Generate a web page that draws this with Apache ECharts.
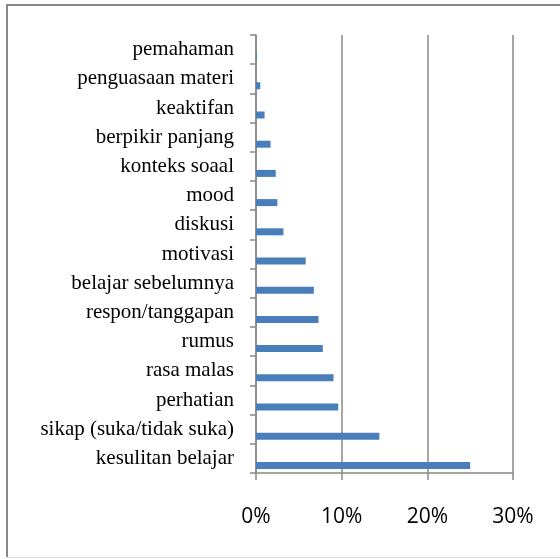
<!DOCTYPE html>
<html lang="en">
<head>
  <meta charset="UTF-8">
  <title>faktor</title>
  <style>
    html,
    body,
    #main {
      margin: 0;
      padding: 0;
      background: #fff;
    }

    #main {
      width: 560px;
      height: 559px;
    }
  </style>
</head>
<body>
  <div id="main"></div>
  <script src="https://cdn.jsdelivr.net/npm/echarts@6/dist/echarts.min.js"></script>
  <script>
    // bottom -> top, same as the y axis
    const factors = [
      'kesulitan belajar', 'sikap (suka/tidak suka)', 'perhatian', 'rasa malas',
      'rumus', 'respon/tanggapan', 'belajar sebelumnya', 'motivasi', 'diskusi',
      'mood', 'konteks soaal', 'berpikir panjang', 'keaktifan',
      'penguasaan materi', 'pemahaman'
    ];
    const percents = [25.0, 14.4, 9.6, 9.05, 7.8, 7.3, 6.75, 5.8, 3.2, 2.5, 2.3, 1.7, 1.0, 0.5, 0.1];
    const xTicks = [0, 10, 20, 30];

    const draw = () => {
      const myChart = echarts.init(document.getElementById('main'));
      const option = {
        animation: false,
        graphic: [
          { type: 'line', shape: { x1: 7, y1: 5, x2: 7, y2: 557 }, style: { stroke: '#888', lineWidth: 2 } },
          { type: 'line', shape: { x1: 6, y1: 5, x2: 560, y2: 5 }, style: { stroke: '#888', lineWidth: 2 } },
          { type: 'line', shape: { x1: 7, y1: 557.5, x2: 560, y2: 557.5 }, style: { stroke: '#ddd', lineWidth: 1 } }
        ],
        grid: {
          left: 256,
          right: 47,
          top: 35,
          bottom: 86
        },
        xAxis: {
          type: 'value',
          min: xTicks[0],
          max: xTicks[xTicks.length - 1],
          interval: 10,
          axisLine: { show: true, lineStyle: { color: '#888', width: 1.5 } },
          axisTick: { show: true, length: 7, lineStyle: { color: '#888', width: 1.5 } },
          splitLine: { show: true, lineStyle: { color: '#888', width: 1.5 } },
          axisLabel: {
            formatter: '{value}%',
            margin: 34,
            color: '#000',
            fontFamily: 'Open Sans',
            fontSize: 21
          }
        },
        yAxis: {
          type: 'category',
          data: factors,
          axisLine: { show: true, lineStyle: { color: '#888', width: 1.5 } },
          axisTick: { show: true, length: 6, lineStyle: { color: '#888', width: 1.5 } },
          axisLabel: {
            margin: 22,
            color: '#000',
            fontFamily: 'Liberation Serif',
            fontSize: 21
          }
        },
        series: [{
            // empty partner series so the real bars sit low in each band
            type: 'bar',
            data: [],
            barWidth: 7,
            barGap: '100%'
          },
          {
            type: 'bar',
            data: percents,
            barWidth: 7,
            barGap: '100%',
            itemStyle: { color: '#4a7ebb' }
          }
        ]
      };

      myChart.setOption(option);
    }

    draw();
  </script>
</body>

</html>
